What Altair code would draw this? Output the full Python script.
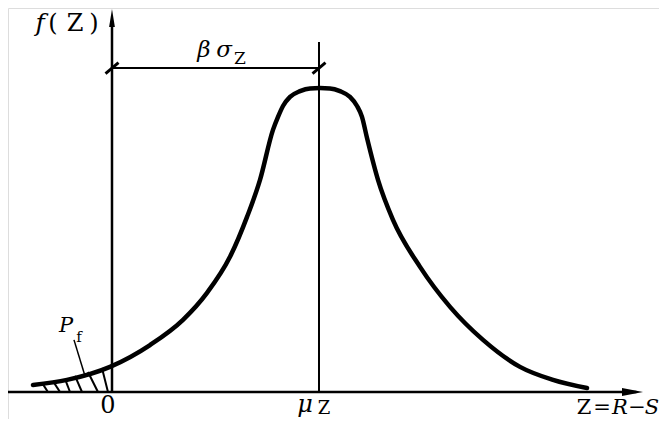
import altair as alt
import pandas as pd

# ---- data (x in units of sigma_Z, 0 at origin, mu_Z = 3; y relative density, peak = 1) ----
curve_x = [-1.145, -0.652, -0.029, 0.551, 1.029, 1.377, 1.710, 1.957, 2.145, 2.333, 2.406,
           2.478, 2.580, 2.725, 2.870, 3.014, 3.159, 3.304, 3.449, 3.551, 3.623, 3.696,
           3.855, 4.072, 4.464, 4.899, 5.377, 5.913, 6.391, 6.884]
curve_y = [0.023, 0.040, 0.083, 0.155, 0.238, 0.327, 0.446, 0.578, 0.700, 0.865, 0.908,
           0.944, 0.974, 0.993, 1.002, 1.003, 1.002, 0.993, 0.974, 0.944, 0.908, 0.838,
           0.700, 0.568, 0.413, 0.281, 0.172, 0.083, 0.040, 0.013]

mu = 3.0
hatch_top_x = [-1.014, -0.855, -0.681, -0.536, -0.348, -0.145]
hatch_top_y = [0.030, 0.036, 0.043, 0.053, 0.066, 0.079]
hatch_bot_x = [-0.928, -0.754, -0.609, -0.435, -0.203, -0.058]

XMIN, XMAX = -1.5072, 7.9275
YMIN, YMAX = -0.0891, 1.2673
dim_y = 1.069

# line segments: x, y, x2, y2, width
seg_x  = [XMIN, 0.0, mu, 0.0, -0.094, mu - 0.094, -0.551]
seg_y  = [0.0, 0.0, 0.0, dim_y, dim_y - 0.018, dim_y - 0.018, 0.172]
seg_x2 = [7.60, 0.0, mu, mu, 0.094, mu + 0.094, -0.391]
seg_y2 = [0.0, 1.215, 1.155, dim_y, dim_y + 0.018, dim_y + 0.018, 0.053]
seg_w  = [2.5, 2.5, 2.0, 2.0, 3.0, 3.0, 1.5]

# labels
it_text = ["f", "β", "σ", "μ", "R", "S", "P"]
it_x    = [-1.043, 1.333, 1.623, 2.797, 7.362, 7.826, -0.667]
it_y    = [1.191, 1.106, 1.106, -0.066, -0.072, -0.072, 0.198]
it_size = [25, 23, 23, 24, 21, 21, 21]

rm_text = ["(", "Z", ")", "Z", "0", "Z", "Z", "=", "−", "f"]
rm_x    = [-0.855, -0.536, -0.261, 1.855, -0.058, 3.072, 6.841, 7.101, 7.609, -0.478]
rm_y    = [1.191, 1.191, 1.191, 1.083, -0.068, -0.074, -0.072, -0.072, -0.072, 0.165]
rm_size = [24, 24, 24, 17, 24, 18, 21, 21, 21, 15]

# ---- frames ----
curve = pd.DataFrame({"x": curve_x, "y": curve_y})
hatch = pd.DataFrame({"x": hatch_top_x, "y": hatch_top_y, "x2": hatch_bot_x,
                      "y2": [0.0] * len(hatch_bot_x), "w": [2.0] * len(hatch_bot_x)})
segs = pd.DataFrame({"x": seg_x, "y": seg_y, "x2": seg_x2, "y2": seg_y2, "w": seg_w})
it_df = pd.DataFrame({"t": it_text, "x": it_x, "y": it_y, "s": it_size})
rm_df = pd.DataFrame({"t": rm_text, "x": rm_x, "y": rm_y, "s": rm_size})
arrow_up = pd.DataFrame({"x": [0.0], "y": [1.234]})
arrow_rt = pd.DataFrame({"x": [7.543], "y": [0.0]})

xs = alt.Scale(domain=[XMIN, XMAX], nice=False, zero=False)
ys = alt.Scale(domain=[YMIN, YMAX], nice=False, zero=False)
X = alt.X("x:Q", scale=xs, axis=None)
Y = alt.Y("y:Q", scale=ys, axis=None)

FONT = "DejaVu Serif"

curve_layer = alt.Chart(curve).mark_line(
    interpolate="monotone", color="black", strokeWidth=4.5, strokeCap="round"
).encode(x=X, y=Y)

def rules(df):
    return alt.Chart(df).mark_rule(color="black").encode(
        x=X, y=Y, x2="x2:Q", y2="y2:Q", size=alt.Size("w:Q", scale=None, legend=None))

up = alt.Chart(arrow_up).mark_point(
    shape="M0,-1 L0.32,1 L-0.32,1 Z", filled=True, color="black", opacity=1, size=324
).encode(x=X, y=Y)
rt = alt.Chart(arrow_rt).mark_point(
    shape="M1,0 L-1,-0.38 L-1,0.38 Z", filled=True, color="black", opacity=1, size=441
).encode(x=X, y=Y)

it_layer = alt.Chart(it_df).mark_text(
    font=FONT, fontStyle="italic", align="center", baseline="alphabetic", color="black"
).encode(x=X, y=Y, text="t:N", size=alt.Size("s:Q", scale=None, legend=None))
rm_layer = alt.Chart(rm_df).mark_text(
    font=FONT, align="center", baseline="alphabetic", color="black"
).encode(x=X, y=Y, text="t:N", size=alt.Size("s:Q", scale=None, legend=None))

chart = alt.layer(
    rules(hatch), rules(segs), curve_layer, up, rt, it_layer, rm_layer
).properties(
    width=651, height=411, padding=0, autosize=alt.AutoSizeParams(type="none")
).configure_view(stroke=None).configure(background="white")

chart.save("out.html", embed_options={"renderer": "svg", "actions": False})
